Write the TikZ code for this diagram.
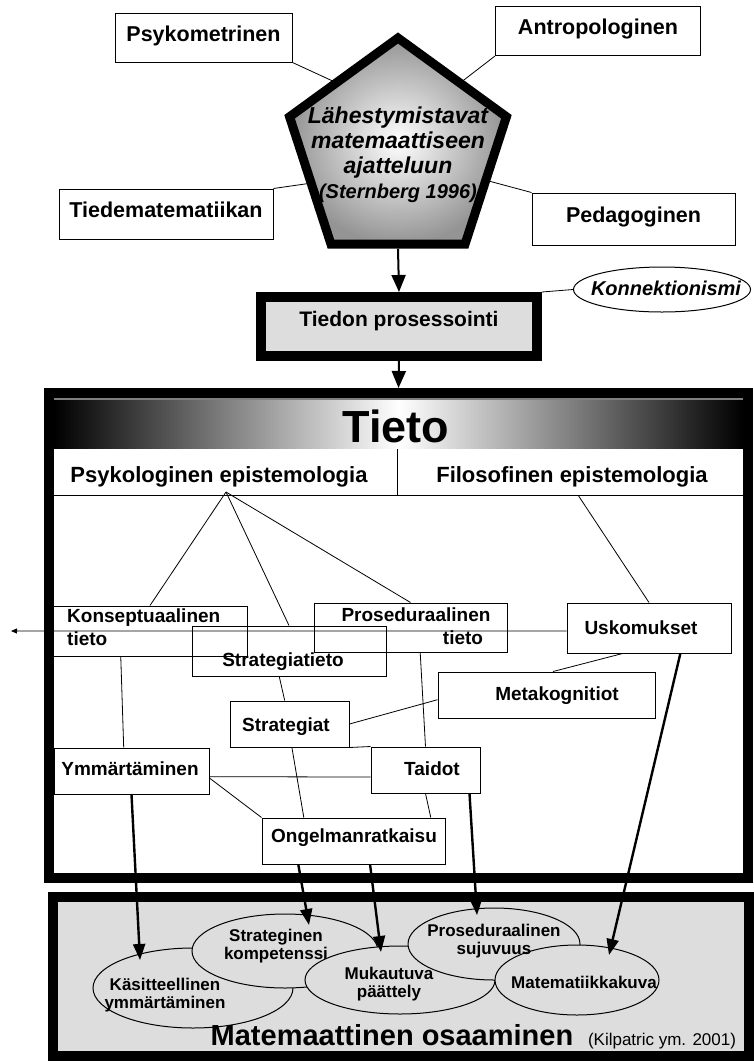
\documentclass[tikz,border=0pt]{standalone}
\usepackage{fontspec}
\setmainfont{Liberation Sans}
\usetikzlibrary{calc,shapes.geometric,arrows.meta}
\definecolor{panelgray}{RGB}{221,221,221}

\begin{document}
\begin{tikzpicture}[x=1pt, y=-1pt,
    box/.style={draw, line width=1pt, inner sep=0pt},
    toplbl/.style={font=\bfseries\fontsize{21.5}{24}\selectfont, inner sep=0pt, text height=1.4ex, text depth=0pt},
    lbl/.style={font=\bfseries\fontsize{19}{23}\selectfont, inner sep=0pt, text height=1.4ex, text depth=0pt},
    oval/.style={ellipse, draw, line width=1pt, fill=panelgray, inner sep=0pt},
    ovlbl/.style={font=\bfseries\fontsize{17}{17.5}\selectfont, align=center, inner sep=0pt},
    thin/.style={line width=0.8pt},
    fat/.style={line width=2pt, -{Triangle[length=17pt,width=14pt]}},
    big/.style={line width=2.4pt, -{Triangle[length=16pt,width=12pt]}}]

    \useasboundingbox (0,0) rectangle (754,1061);

    % approaches round the pentagon
        \node[box, toplbl, minimum width=177pt, minimum height=49pt] (psy) at (203.5,37.5) {Psykometrinen};
        \node[box, toplbl, minimum width=205pt, minimum height=49pt] (ant) at (598,31) {Antropologinen};
        \node[box, toplbl, minimum width=214pt, minimum height=50pt] (tie) at (166,214) {Tiedematematiikan};
        \node[box, toplbl, minimum width=203pt, minimum height=52pt] (ped) at (633.5,219) {Pedagoginen};

        \coordinate (pen) at (398,152);
        \draw[thin] (psy.south east) -- ($(pen)+(-61,-69)$);
        \draw[thin] (ant.south west) -- ($(pen)+(62,-69)$);
        \draw[thin] (tie.north east) -- ($(pen)+(-86,31)$);
        \draw[thin] (ped.north west) -- ($(pen)+(87,28)$);

    % pentagon
        \node[regular polygon, regular polygon sides=5, minimum size=228pt, draw, line width=9pt,
              inner color=white, outer color=black!42] (penta) at (pen) {};
        \node[font=\bfseries\itshape\fontsize{23}{25}\selectfont, align=center, inner sep=0pt] (lah) at (398,155)
            {Lähestymistavat\\matemaattiseen\\ajatteluun\\{\fontsize{20}{25}\selectfont(Sternberg 1996)}};

    % information processing
        \node[draw, line width=10pt, fill=panelgray, minimum width=276pt, minimum height=59pt] (tp) at (399,326.5) {};
        \node[toplbl, font=\bfseries\fontsize{21}{24}\selectfont] (tpl) at (399,323) {Tiedon prosessointi};
        \node[ellipse, draw, line width=1pt, minimum width=177pt, minimum height=45pt] (kon) at (662,289.5) {};
        \node[font=\bfseries\itshape\fontsize{20}{24}\selectfont, inner sep=0pt] (konl) at (666,288) {Konnektionismi};
        \draw[thin] (tp.north east) -- (kon.west);
        \draw[fat] (penta.south) -- (tp.north);

    % knowledge frame
        \node[draw, line width=10pt, minimum width=699pt, minimum height=485pt] (kbox) at (398.5,635.5) {};
        \draw[fat] (tp.south) -- (kbox.north);
        \shade[left color=black, right color=black, middle color=white] (54,399) rectangle (743,448);
        \draw[gray, line width=1.2pt] (54,399) -- (743,399);
        \node[font=\bfseries\fontsize{45}{45}\selectfont, inner sep=0pt] (tieto) at (396,426) {Tieto};

        \coordinate (dv) at (397,449);
        \coordinate (hl) at (54,495);
        \coordinate (hr) at (743,495);
        \draw[thin] (dv) -- (dv |- hl);
        \draw[thin] (hl) -- (hr);
        \node[font=\bfseries\fontsize{22}{26}\selectfont, inner sep=0pt] (psyep) at (219,477) {Psykologinen epistemologia};
        \node[font=\bfseries\fontsize{22}{26}\selectfont, inner sep=0pt] (filep) at (572,477) {Filosofinen epistemologia};
        \coordinate (pe) at (226,492);
        \coordinate (fe) at (578,495);

    % boxes inside
        \node[box, minimum width=194pt, minimum height=50pt] (kt) at (150,631) {};
        \node[box, minimum width=194pt, minimum height=50pt] (st) at (289,651) {};
        \node[box, minimum width=193pt, minimum height=49pt] (pt) at (410.5,627.5) {};
        \node[box, minimum width=164pt, minimum height=50pt] (us) at (649,628) {};
        \node[box, minimum width=217pt, minimum height=46pt] (mk) at (546.5,695) {};
        \node[box, minimum width=119pt, minimum height=46pt] (sg) at (289.5,724) {};
        \node[box, minimum width=155pt, minimum height=46pt] (ym) at (131.5,771) {};
        \node[box, minimum width=109pt, minimum height=46pt] (ta) at (425.5,770) {};
        \node[box, minimum width=183pt, minimum height=46pt] (on) at (353.5,841) {};

        \node[lbl, anchor=west] (ktl1) at (67,619) {Konseptuaalinen};
        \node[lbl, anchor=west] (ktl2) at (67,642) {tieto};
        \node[lbl] (stl) at (283,663) {Strategiatieto};
        \node[lbl] (ptl1) at (416,618) {Proseduraalinen};
        \node[lbl] (ptl2) at (463,641) {tieto};
        \node[lbl] (usl) at (641,631) {Uskomukset};
        \node[lbl] (mkl) at (557,697) {Metakognitiot};
        \node[lbl] (sgl) at (286,728) {Strategiat};
        \node[lbl] (yml) at (130,772) {Ymmärtäminen};
        \node[lbl] (tal) at (432,772) {Taidot};
        \node[lbl] (onl) at (354,839) {Ongelmanratkaisu};

    % thin links
        \draw[thin] (pe) -- (kt.north);
        \draw[thin] (pe) -- (st.north);
        \draw[thin] (pe) -- (pt.north);
        \draw[thin] (fe) -- (us.north);
        \coordinate (away) at (11,631);
        \draw[thin, -{Triangle[length=6pt,width=5pt]}] ($(us.north west)!0.56!(us.south west)$) -- (away);
        \draw[thin] ($(kt.south west)!0.35!(kt.south east)$) -- ($(ym.north west)!0.45!(ym.north east)$);
        \draw[thin] ($(st.south west)!0.45!(st.south east)$) -- ($(sg.north west)!0.46!(sg.north east)$);
        \draw[thin] ($(pt.south west)!0.55!(pt.south east)$) -- (ta.north);
        \draw[thin] ($(us.south west)!0.34!(us.south east)$) -- ($(mk.north west)!0.53!(mk.north east)$);
        \draw[thin] ($(mk.north west)!0.6!(mk.south west)$) -- (sg.east);
        \draw[thin] (sg.south east) -- (ta.north west);
        \draw[thin] ($(sg.south west)!0.52!(sg.south east)$) -- ($(on.north west)!0.23!(on.north east)$);
        \draw[thin] ($(ym.north east)!0.62!(ym.south east)$) -- ($(ta.north west)!0.65!(ta.south west)$);
        \draw[thin] ($(ym.north east)!0.65!(ym.south east)$) -- (on.north west);
        \draw[thin] (ta.south) -- ($(on.north west)!0.92!(on.north east)$);

    % competence panel
        \node[draw, line width=10pt, fill=panelgray, minimum width=696pt, minimum height=159pt] (osbox) at (401,976.5) {};
        \node[oval, minimum width=200pt, minimum height=80pt] (ku) at (193,988) {};
        \node[oval, minimum width=186pt, minimum height=74pt] (sk) at (285,951) {};
        \node[oval, minimum width=190pt, minimum height=68pt] (ma) at (400,980) {};
        \node[oval, minimum width=172pt, minimum height=72pt] (ps) at (494,944) {};
        \node[oval, minimum width=164pt, minimum height=70pt] (mt) at (577,980) {};

        \node[ovlbl] (kul) at (165,995) {Käsitteellinen\\ymmärtäminen};
        \node[ovlbl] (skl) at (276,946) {Strateginen\\kompetenssi};
        \node[ovlbl] (mal) at (389,984) {Mukautuva\\päättely};
        \node[ovlbl] (psl) at (494,941) {Proseduraalinen\\sujuvuus};
        \node[ovlbl] (mtl) at (584,982) {Matematiikkakuva};

        \node[font=\bfseries\fontsize{29}{29}\selectfont, inner sep=0pt, anchor=base] (mo) at (392,1045) {Matemaattinen osaaminen};
        \node[font=\fontsize{17}{17}\selectfont, inner sep=0pt, anchor=base] (kil) at (662,1045) {(Kilpatric ym. 2001)};

    % arrows down
    \draw[big] (ym.south) -- ($(ku.center)+(-53,-28)$);
    \draw[big] ($(on.south west)!0.2!(on.south east)$) -- ($(sk.center)+(24,-26)$);
    \draw[big] ($(on.south west)!0.59!(on.south east)$) -- ($(ma.center)+(-19,-28)$);
    \draw[big] ($(ta.south west)!0.9!(ta.south east)$) -- ($(ps.center)+(-17,-29)$);
    \draw[big] ($(us.south west)!0.69!(us.south east)$) -- ($(mt.center)+(32,-25)$);

\end{tikzpicture}
\end{document}
